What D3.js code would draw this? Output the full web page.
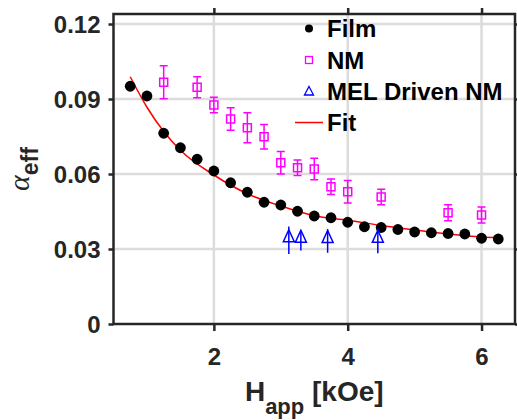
<!DOCTYPE html>
<html>
<head>
<meta charset="utf-8">
<script src="https://cdn.jsdelivr.net/npm/d3@7"></script>
<style>
body { margin: 0; background: #fff; }
text { font-family: "Liberation Sans", Arial, Helvetica, sans-serif; font-weight: bold; }
</style>
</head>
<body>
<div id="chart"></div>
<script>
// film data (black dots)
var filmH = [0.75, 1.0, 1.25, 1.5, 1.75, 2.0, 2.25, 2.5, 2.75, 3.0, 3.25, 3.5, 3.75, 4.0, 4.25, 4.5, 4.75, 5.0, 5.25, 5.5, 5.75, 6.0, 6.25];
var filmAlpha = [0.0951, 0.0912, 0.0763, 0.0705, 0.0659, 0.0612, 0.0565, 0.0527, 0.0487, 0.0476, 0.0451, 0.0432, 0.0425, 0.0407, 0.0389, 0.0386, 0.0378, 0.0368, 0.0365, 0.0362, 0.0360, 0.0343, 0.0340];

// NM (magenta squares + error bars)
var nmH = [1.25, 1.75, 2.0, 2.25, 2.5, 2.75, 3.0, 3.25, 3.5, 3.75, 4.0, 4.5, 5.5, 6.0];
var nmAlpha = [0.0967, 0.0947, 0.0876, 0.0820, 0.0785, 0.0749, 0.0645, 0.0625, 0.0620, 0.0549, 0.0529, 0.0508, 0.0445, 0.0436];
var nmErr = [0.0066, 0.0042, 0.0031, 0.0045, 0.0060, 0.0049, 0.0045, 0.0031, 0.0043, 0.0031, 0.0045, 0.0031, 0.0032, 0.0032];

// MEL driven NM (blue triangles)
var melH = [3.12, 3.30, 3.70, 4.45];
var melAlpha = [0.0335, 0.0333, 0.0332, 0.0333];
var melErr = [0.0055, 0.0039, 0.0047, 0.0050];

// fit curve
var fitH = [0.75, 1.0, 1.25, 1.5, 2.0, 2.5, 3.0, 3.5, 4.0, 4.5, 5.0, 5.5, 6.0, 6.25];
var fitAlpha = [0.0989, 0.0867, 0.0770, 0.0695, 0.0596, 0.0521, 0.0472, 0.0433, 0.0415, 0.0394, 0.0376, 0.0360, 0.0348, 0.0345];

var xTicks = [2, 4, 6];
var yTicks = [0, 0.03, 0.06, 0.09, 0.12];
var legendLabels = ["Film", "NM", "MEL Driven NM", "Fit"];

var width = 517;
var height = 420;
var plotL = 113.5, plotR = 515, plotT = 14, plotB = 324;

var x = d3.scaleLinear().domain([0.5, 6.5]).range([plotL, plotR]);
var y = d3.scaleLinear().domain([0, 0.124]).range([plotB, plotT]);

var svg = d3.select("#chart")
    .append("svg")
    .attr("width", width)
    .attr("height", height);

// grid
svg.append("g").selectAll("line")
    .data(xTicks)
    .enter()
    .append("line")
    .attr("x1", function(d) { return x(d); })
    .attr("x2", function(d) { return x(d); })
    .attr("y1", plotT)
    .attr("y2", plotB)
    .attr("stroke", "#dcdcdc")
    .attr("stroke-width", 2.5);

svg.append("g").selectAll("line")
    .data(yTicks.slice(1))
    .enter()
    .append("line")
    .attr("x1", plotL)
    .attr("x2", plotR)
    .attr("y1", function(d) { return y(d); })
    .attr("y2", function(d) { return y(d); })
    .attr("stroke", "#dcdcdc")
    .attr("stroke-width", 2.5);

// axes
var bottomAxis = d3.axisBottom(x).tickValues(xTicks).tickSize(7).tickPadding(17)
    .tickFormat(d3.format("d"));
var leftAxis = d3.axisLeft(y).tickValues(yTicks).tickSize(5).tickPadding(8)
    .tickFormat(function(d) { return d === 0 ? "0" : d3.format(".2f")(d); });
var topAxis = d3.axisTop(x).tickValues(xTicks).tickSize(6).tickFormat("");
var rightAxis = d3.axisRight(y).tickValues(yTicks).tickSize(6).tickFormat("");

var gx = svg.append("g").attr("transform", "translate(0," + plotB + ")").call(bottomAxis);
var gy = svg.append("g").attr("transform", "translate(" + plotL + ",0)").call(leftAxis);
var gt = svg.append("g").attr("transform", "translate(0," + plotT + ")").call(topAxis);
var gr = svg.append("g").attr("transform", "translate(" + plotR + ",0)").call(rightAxis);

[gx, gy, gt, gr].forEach(function(g) {
    g.select(".domain").remove();
    g.selectAll(".tick line").attr("stroke", "#262626").attr("stroke-width", 2.5);
    g.selectAll(".tick text")
        .attr("fill", "#262626")
        .style("font-size", "24px")
        .style("font-family", "'Liberation Sans', Arial, sans-serif")
        .style("font-weight", "bold");
});
gy.selectAll(".tick text").attr("dy", "0.35em");

// fit line
var line = d3.line()
    .x(function(d) { return x(d[0]); })
    .y(function(d) { return y(d[1]); })
    .curve(d3.curveMonotoneX);

var fitData = fitH.map(function(h, i) { return [h, fitAlpha[i]]; });

svg.append("path")
    .datum(fitData)
    .attr("d", line)
    .attr("fill", "none")
    .attr("stroke", "#ff0000")
    .attr("stroke-width", 1.5);

// film dots
svg.append("g").selectAll("circle")
    .data(filmH.map(function(h, i) { return [h, filmAlpha[i]]; }))
    .enter()
    .append("circle")
    .attr("cx", function(d) { return x(d[0]); })
    .attr("cy", function(d) { return y(d[1]); })
    .attr("r", 5.4)
    .attr("fill", "#000");

// NM error bars + squares
var nm = nmH.map(function(h, i) { return [h, nmAlpha[i], nmErr[i]]; });
var gnm = svg.append("g").attr("stroke", "#ff00ff").attr("stroke-width", 1.5).attr("fill", "none");
gnm.selectAll(".eb")
    .data(nm)
    .enter()
    .append("path")
    .attr("d", function(d) {
        var cx = x(d[0]), y1 = y(d[1] + d[2]), y2 = y(d[1] - d[2]);
        return "M" + cx + "," + y1 + "V" + y2 +
            "M" + (cx - 4) + "," + y1 + "H" + (cx + 4) +
            "M" + (cx - 4) + "," + y2 + "H" + (cx + 4);
    });
gnm.selectAll("rect")
    .data(nm)
    .enter()
    .append("rect")
    .attr("x", function(d) { return x(d[0]) - 4; })
    .attr("y", function(d) { return y(d[1]) - 4; })
    .attr("width", 8)
    .attr("height", 8);

// MEL driven NM
var mel = melH.map(function(h, i) { return [h, melAlpha[i], melErr[i]]; });
var gmel = svg.append("g").attr("stroke", "#0000ff").attr("stroke-width", 1.5).attr("fill", "none");
gmel.selectAll(".eb")
    .data(mel)
    .enter()
    .append("path")
    .attr("d", function(d) {
        return "M" + x(d[0]) + "," + y(d[1] + d[2]) + "V" + y(d[1] - d[2]);
    });
gmel.selectAll(".tri")
    .data(mel)
    .enter()
    .append("path")
    .attr("d", function(d) {
        var cx = x(d[0]), cy = y(d[1]) - 2.5;
        return "M" + cx + "," + (cy - 8) + "L" + (cx + 5.5) + "," + (cy + 4) + "L" + (cx - 5.5) + "," + (cy + 4) + "Z";
    });

// box
svg.append("rect")
    .attr("x", plotL)
    .attr("y", plotT)
    .attr("width", plotR - plotL)
    .attr("height", plotB - plotT)
    .attr("fill", "none")
    .attr("stroke", "#262626")
    .attr("stroke-width", 2.5);

// legend
var lg = svg.append("g");
var rowY = [28.5, 60, 91.5, 122.5];
var mx = 309;
lg.append("circle").attr("cx", mx).attr("cy", rowY[0]).attr("r", 4).attr("fill", "#000");
lg.append("rect").attr("x", mx - 3.5).attr("y", rowY[1] - 3.5).attr("width", 7).attr("height", 7)
    .attr("fill", "none").attr("stroke", "#ff00ff").attr("stroke-width", 1.3);
lg.append("path").attr("d", "M" + mx + "," + (rowY[2] - 5) + "L" + (mx + 4.5) + "," + (rowY[2] + 3.5) + "L" + (mx - 4.5) + "," + (rowY[2] + 3.5) + "Z")
    .attr("fill", "none").attr("stroke", "#0000ff").attr("stroke-width", 1.3);
lg.append("line").attr("x1", 295).attr("x2", 323).attr("y1", rowY[3]).attr("y2", rowY[3])
    .attr("stroke", "#ff0000").attr("stroke-width", 1.5);
lg.selectAll("text")
    .data(legendLabels)
    .enter()
    .append("text")
    .attr("x", 327)
    .attr("y", function(d, i) { return rowY[i] + 8.5; })
    .style("font-size", "24px")
    .attr("fill", "#000")
    .text(function(d) { return d; });

// x label
var xl = svg.append("text")
    .attr("x", (plotL + plotR) / 2)
    .attr("y", 401)
    .attr("text-anchor", "middle")
    .attr("fill", "#262626")
    .style("font-size", "28px");
xl.append("tspan").text("H");
xl.append("tspan").attr("dy", 13).style("font-size", "22px").text("app");
xl.append("tspan").attr("dy", -13).text(" [kOe]");

// y label
var yl = svg.append("text")
    .attr("transform", "translate(29," + ((plotT + plotB) / 2) + ") rotate(-90)")
    .attr("text-anchor", "middle")
    .attr("fill", "#262626");
yl.append("tspan")
    .style("font-family", "'Liberation Serif', 'Times New Roman', serif")
    .style("font-style", "italic")
    .style("font-weight", "normal")
    .style("font-size", "30px")
    .text("α");
yl.append("tspan").attr("dy", 9).style("font-size", "23px").text("eff");
</script>
</body>
</html>
